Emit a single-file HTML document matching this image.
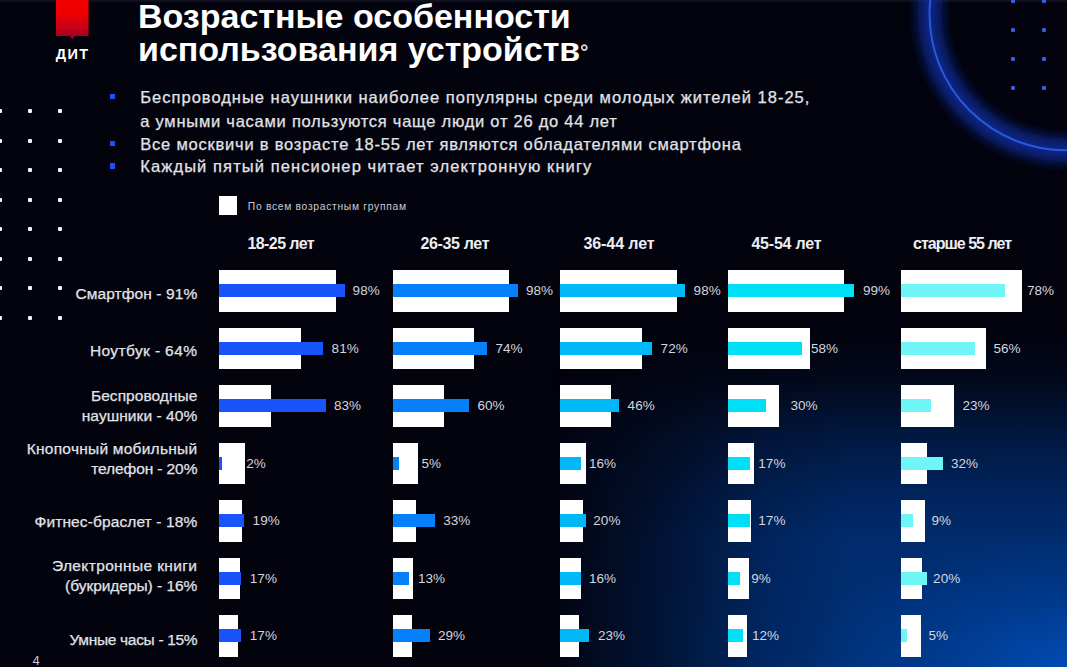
<!DOCTYPE html>
<html lang="ru"><head><meta charset="utf-8"><title>Возрастные особенности использования устройств</title>
<style>
*{margin:0;padding:0;box-sizing:border-box}
html,body{width:1067px;height:667px;overflow:hidden}
body{position:relative;background:#03030e;font-family:"Liberation Sans",sans-serif;color:#fff}
.a{position:absolute}
.bg{position:absolute;left:0;top:0;width:1067px;height:667px}
.w{position:absolute;background:#fff}
.b{position:absolute}
.t{position:absolute;white-space:nowrap;line-height:1}
.pct{font-size:13.5px;color:#d4d6de;letter-spacing:0.05px}
.lbl{font-size:15.5px;color:#e2e3e8;-webkit-text-stroke:0.25px #e2e3e8;letter-spacing:-0.25px;text-align:right}
.hd{font-size:16px;font-weight:700;color:#eceef2;letter-spacing:-0.5px}
.bul{font-size:16.5px;color:#e2e3e8;-webkit-text-stroke:0.25px #e2e3e8}
.dot{position:absolute;width:4px;height:4px;background:#f4f4f8;border-radius:1px}
.bdot{position:absolute;width:4px;height:4px;background:#3560e0;border-radius:1.2px}
</style></head><body>

<div class="bg" style="background:linear-gradient(to bottom, rgba(0,44,110,0) 330px, rgba(0,44,110,0.15) 380px, rgba(0,44,110,0.42) 420px, rgba(0,44,110,0.55) 440px, rgba(0,44,110,0.8) 490px, rgba(0,44,110,1) 540px, rgb(0,48,118) 667px);-webkit-mask-image:linear-gradient(to right, rgba(0,0,0,0) 548px, rgba(0,0,0,0.12) 578px, rgba(0,0,0,0.36) 650px, rgba(0,0,0,0.56) 700px, rgba(0,0,0,0.82) 765px, #000 850px);mask-image:linear-gradient(to right, rgba(0,0,0,0) 548px, rgba(0,0,0,0.12) 578px, rgba(0,0,0,0.36) 650px, rgba(0,0,0,0.56) 700px, rgba(0,0,0,0.82) 765px, #000 850px)"></div>
<div class="bg" style="background:radial-gradient(ellipse 260px 135px at 1067px 667px, rgba(0,86,205,0.7), rgba(0,86,205,0.28) 50%, rgba(0,86,205,0) 100%)"></div>
<div class="a" style="left:0;top:0;width:1067px;height:3px;background:linear-gradient(to bottom, rgba(22,22,40,0.9), rgba(22,22,40,0))"></div>
<svg class="a" style="left:0;top:0" width="1067" height="667" viewBox="0 0 1067 667"><defs><filter id="gl" x="-50%" y="-50%" width="200%" height="200%"><feGaussianBlur stdDeviation="6"/></filter><filter id="gl2" x="-50%" y="-50%" width="200%" height="200%"><feGaussianBlur stdDeviation="0.7"/></filter></defs><circle cx="1066.0" cy="13.8" r="136.5" fill="none" stroke="#0b2c95" stroke-width="24" opacity="0.85" filter="url(#gl)"/><circle cx="1066.0" cy="13.8" r="136.5" fill="none" stroke="#2b58dc" stroke-width="2" filter="url(#gl2)"/></svg>
<div class="bdot" style="left:1011.4px;top:-1.5px"></div>
<div class="bdot" style="left:1011.4px;top:27.5px"></div>
<div class="bdot" style="left:1011.4px;top:56.8px"></div>
<div class="bdot" style="left:1011.4px;top:86.1px"></div>
<div class="bdot" style="left:1041.5px;top:-1.5px"></div>
<div class="bdot" style="left:1041.5px;top:27.5px"></div>
<div class="bdot" style="left:1041.5px;top:56.8px"></div>
<div class="bdot" style="left:1041.5px;top:86.1px"></div>
<div class="dot" style="left:-1.7px;top:109.4px"></div>
<div class="dot" style="left:-1.7px;top:138.8px"></div>
<div class="dot" style="left:-1.7px;top:168.3px"></div>
<div class="dot" style="left:-1.7px;top:197.8px"></div>
<div class="dot" style="left:-1.7px;top:227.2px"></div>
<div class="dot" style="left:-1.7px;top:256.6px"></div>
<div class="dot" style="left:-1.7px;top:286.1px"></div>
<div class="dot" style="left:-1.7px;top:315.6px"></div>
<div class="dot" style="left:27.6px;top:109.4px"></div>
<div class="dot" style="left:27.6px;top:138.8px"></div>
<div class="dot" style="left:27.6px;top:168.3px"></div>
<div class="dot" style="left:27.6px;top:197.8px"></div>
<div class="dot" style="left:27.6px;top:227.2px"></div>
<div class="dot" style="left:27.6px;top:256.6px"></div>
<div class="dot" style="left:27.6px;top:286.1px"></div>
<div class="dot" style="left:27.6px;top:315.6px"></div>
<div class="dot" style="left:57.6px;top:109.4px"></div>
<div class="dot" style="left:57.6px;top:138.8px"></div>
<div class="dot" style="left:57.6px;top:168.3px"></div>
<div class="dot" style="left:57.6px;top:197.8px"></div>
<div class="dot" style="left:57.6px;top:227.2px"></div>
<div class="dot" style="left:57.6px;top:256.6px"></div>
<div class="dot" style="left:57.6px;top:286.1px"></div>
<div class="dot" style="left:57.6px;top:315.6px"></div>
<svg class="a" style="left:56px;top:0" width="33" height="40" viewBox="0 0 33 40">
<defs><linearGradient id="lg" x1="0" y1="0" x2="0" y2="1"><stop offset="0" stop-color="#f20000"/><stop offset="0.38" stop-color="#ee0000"/><stop offset="0.5" stop-color="#d8000e"/><stop offset="0.72" stop-color="#c8001a"/><stop offset="0.82" stop-color="#ac001c"/><stop offset="1" stop-color="#b0001e"/></linearGradient></defs>
<path d="M0 0H32.5V36H18.6L16.3 39.2L14 36H0Z" fill="url(#lg)"/></svg>
<div class="t" style="left:55.8px;top:46.5px;font-size:14.5px;font-weight:700;letter-spacing:1.4px;color:#fff">ДИТ</div>
<div class="t" style="left:138px;top:0px;font-size:34px;font-weight:700;line-height:32.6px;color:#fff">Возрастные особенности<br>использования устройств</div>
<svg class="a" style="left:580px;top:44px" width="8" height="8" viewBox="0 0 8 8"><circle cx="4.3" cy="3.6" r="2.5" fill="none" stroke="#d4d4dc" stroke-width="1.7"/></svg>
<div class="t bul" style="left:140.3px;top:88.73px;letter-spacing:0.997px">Беспроводные наушники наиболее популярны среди молодых жителей 18-25,</div>
<div class="a" style="left:109.5px;top:93.7px;width:5.5px;height:5.5px;background:#2050f0"></div>
<div class="t bul" style="left:140.3px;top:112.63px;letter-spacing:0.747px">а умными часами пользуются чаще люди от 26 до 44 лет</div>
<div class="t bul" style="left:140.3px;top:135.83px;letter-spacing:0.776px">Все москвичи в возрасте 18-55 лет являются обладателями смартфона</div>
<div class="a" style="left:109.5px;top:140.8px;width:5.5px;height:5.5px;background:#2050f0"></div>
<div class="t bul" style="left:140.3px;top:158.23px;letter-spacing:1.094px">Каждый пятый пенсионер читает электронную книгу</div>
<div class="a" style="left:109.5px;top:163.2px;width:5.5px;height:5.5px;background:#2050f0"></div>
<div class="w" style="left:218.5px;top:196px;width:18.8px;height:18.6px"></div>
<div class="t" style="left:247.8px;top:201.58px;font-size:10.3px;color:#c9cad2;letter-spacing:0.7px">По всем возрастным группам</div>
<div class="t hd" style="left:247.5px;top:235.56px;letter-spacing:-0.593px">18-25 лет</div>
<div class="t hd" style="left:420.5px;top:235.56px;letter-spacing:-0.355px">26-35 лет</div>
<div class="t hd" style="left:583.5px;top:235.56px;letter-spacing:-0.093px">36-44 лет</div>
<div class="t hd" style="left:751.4px;top:235.56px;letter-spacing:-0.205px">45-54 лет</div>
<div class="t hd" style="left:913px;top:235.56px;letter-spacing:-0.984px">старше 55 лет</div>
<div class="w" style="left:219.3px;top:270px;width:116.7px;height:41.6px"></div>
<div class="b" style="left:219.3px;top:284.0px;width:125.6px;height:13.4px;background:#1854fa"></div>
<div class="t pct" style="left:352.6px;top:284.17px">98%</div>
<div class="w" style="left:219.3px;top:327.5px;width:82.0px;height:41.6px"></div>
<div class="b" style="left:219.3px;top:341.5px;width:103.8px;height:13.4px;background:#1854fa"></div>
<div class="t pct" style="left:331.6px;top:341.67px">81%</div>
<div class="w" style="left:219.3px;top:385px;width:51.3px;height:41.6px"></div>
<div class="b" style="left:219.3px;top:399.0px;width:106.4px;height:13.4px;background:#1854fa"></div>
<div class="t pct" style="left:333.9px;top:399.17px">83%</div>
<div class="w" style="left:219.3px;top:442.5px;width:25.6px;height:41.6px"></div>
<div class="b" style="left:219.3px;top:456.5px;width:2.6px;height:13.4px;background:#1854fa"></div>
<div class="t pct" style="left:246.2px;top:456.67px">2%</div>
<div class="w" style="left:219.3px;top:500px;width:23.1px;height:41.6px"></div>
<div class="b" style="left:219.3px;top:514.0px;width:24.4px;height:13.4px;background:#1854fa"></div>
<div class="t pct" style="left:252.6px;top:514.17px">19%</div>
<div class="w" style="left:219.3px;top:557.5px;width:20.5px;height:41.6px"></div>
<div class="b" style="left:219.3px;top:571.5px;width:21.8px;height:13.4px;background:#1854fa"></div>
<div class="t pct" style="left:249.8px;top:571.67px">17%</div>
<div class="w" style="left:219.3px;top:615px;width:19.2px;height:41.6px"></div>
<div class="b" style="left:219.3px;top:629.0px;width:21.8px;height:13.4px;background:#1854fa"></div>
<div class="t pct" style="left:249.8px;top:629.17px">17%</div>
<div class="w" style="left:392.5px;top:270px;width:116.5px;height:41.6px"></div>
<div class="b" style="left:392.5px;top:284.0px;width:125.4px;height:13.4px;background:#0580fa"></div>
<div class="t pct" style="left:526.0px;top:284.17px">98%</div>
<div class="w" style="left:392.5px;top:327.5px;width:81.9px;height:41.6px"></div>
<div class="b" style="left:392.5px;top:341.5px;width:94.7px;height:13.4px;background:#0580fa"></div>
<div class="t pct" style="left:495.5px;top:341.67px">74%</div>
<div class="w" style="left:392.5px;top:385px;width:51.2px;height:41.6px"></div>
<div class="b" style="left:392.5px;top:399.0px;width:76.8px;height:13.4px;background:#0580fa"></div>
<div class="t pct" style="left:477.5px;top:399.17px">60%</div>
<div class="w" style="left:392.5px;top:442.5px;width:25.6px;height:41.6px"></div>
<div class="b" style="left:392.5px;top:456.5px;width:6.4px;height:13.4px;background:#0580fa"></div>
<div class="t pct" style="left:421.5px;top:456.67px">5%</div>
<div class="w" style="left:392.5px;top:500px;width:23.0px;height:41.6px"></div>
<div class="b" style="left:392.5px;top:514.0px;width:42.2px;height:13.4px;background:#0580fa"></div>
<div class="t pct" style="left:443.2px;top:514.17px">33%</div>
<div class="w" style="left:392.5px;top:557.5px;width:20.5px;height:41.6px"></div>
<div class="b" style="left:392.5px;top:571.5px;width:16.6px;height:13.4px;background:#0580fa"></div>
<div class="t pct" style="left:418.0px;top:571.67px">13%</div>
<div class="w" style="left:392.5px;top:615px;width:19.2px;height:41.6px"></div>
<div class="b" style="left:392.5px;top:629.0px;width:37.1px;height:13.4px;background:#0580fa"></div>
<div class="t pct" style="left:437.9px;top:629.17px">29%</div>
<div class="w" style="left:560.0px;top:270px;width:116.5px;height:41.6px"></div>
<div class="b" style="left:560.0px;top:284.0px;width:125.4px;height:13.4px;background:#00b8f8"></div>
<div class="t pct" style="left:693.6px;top:284.17px">98%</div>
<div class="w" style="left:560.0px;top:327.5px;width:81.9px;height:41.6px"></div>
<div class="b" style="left:560.0px;top:341.5px;width:92.2px;height:13.4px;background:#00b8f8"></div>
<div class="t pct" style="left:660.6px;top:341.67px">72%</div>
<div class="w" style="left:560.0px;top:385px;width:51.2px;height:41.6px"></div>
<div class="b" style="left:560.0px;top:399.0px;width:58.9px;height:13.4px;background:#00b8f8"></div>
<div class="t pct" style="left:627.6px;top:399.17px">46%</div>
<div class="w" style="left:560.0px;top:442.5px;width:25.6px;height:41.6px"></div>
<div class="b" style="left:560.0px;top:456.5px;width:20.5px;height:13.4px;background:#00b8f8"></div>
<div class="t pct" style="left:589.0px;top:456.67px">16%</div>
<div class="w" style="left:560.0px;top:500px;width:23.0px;height:41.6px"></div>
<div class="b" style="left:560.0px;top:514.0px;width:25.6px;height:13.4px;background:#00b8f8"></div>
<div class="t pct" style="left:593.3px;top:514.17px">20%</div>
<div class="w" style="left:560.0px;top:557.5px;width:20.5px;height:41.6px"></div>
<div class="b" style="left:560.0px;top:571.5px;width:20.5px;height:13.4px;background:#00b8f8"></div>
<div class="t pct" style="left:589.0px;top:571.67px">16%</div>
<div class="w" style="left:560.0px;top:615px;width:19.2px;height:41.6px"></div>
<div class="b" style="left:560.0px;top:629.0px;width:29.4px;height:13.4px;background:#00b8f8"></div>
<div class="t pct" style="left:597.9px;top:629.17px">23%</div>
<div class="w" style="left:728.2px;top:270px;width:116.0px;height:41.6px"></div>
<div class="b" style="left:728.2px;top:284.0px;width:126.2px;height:13.4px;background:#00dff5"></div>
<div class="t pct" style="left:863.0px;top:284.17px">99%</div>
<div class="w" style="left:728.2px;top:327.5px;width:81.6px;height:41.6px"></div>
<div class="b" style="left:728.2px;top:341.5px;width:73.9px;height:13.4px;background:#00dff5"></div>
<div class="t pct" style="left:811.0px;top:341.67px">58%</div>
<div class="w" style="left:728.2px;top:385px;width:51.0px;height:41.6px"></div>
<div class="b" style="left:728.2px;top:399.0px;width:38.2px;height:13.4px;background:#00dff5"></div>
<div class="t pct" style="left:790.4px;top:399.17px">30%</div>
<div class="w" style="left:728.2px;top:442.5px;width:25.5px;height:41.6px"></div>
<div class="b" style="left:728.2px;top:456.5px;width:21.7px;height:13.4px;background:#00dff5"></div>
<div class="t pct" style="left:758.3px;top:456.67px">17%</div>
<div class="w" style="left:728.2px;top:500px;width:22.9px;height:41.6px"></div>
<div class="b" style="left:728.2px;top:514.0px;width:21.7px;height:13.4px;background:#00dff5"></div>
<div class="t pct" style="left:758.3px;top:514.17px">17%</div>
<div class="w" style="left:728.2px;top:557.5px;width:20.4px;height:41.6px"></div>
<div class="b" style="left:728.2px;top:571.5px;width:11.5px;height:13.4px;background:#00dff5"></div>
<div class="t pct" style="left:751.2px;top:571.67px">9%</div>
<div class="w" style="left:728.2px;top:615px;width:19.1px;height:41.6px"></div>
<div class="b" style="left:728.2px;top:629.0px;width:15.3px;height:13.4px;background:#00dff5"></div>
<div class="t pct" style="left:752.0px;top:629.17px">12%</div>
<div class="w" style="left:900.5px;top:270px;width:121.3px;height:41.6px"></div>
<div class="b" style="left:900.5px;top:284.0px;width:104.0px;height:13.4px;background:#70f5f7"></div>
<div class="t pct" style="left:1027.0px;top:284.17px">78%</div>
<div class="w" style="left:900.5px;top:327.5px;width:85.3px;height:41.6px"></div>
<div class="b" style="left:900.5px;top:341.5px;width:74.6px;height:13.4px;background:#70f5f7"></div>
<div class="t pct" style="left:993.4px;top:341.67px">56%</div>
<div class="w" style="left:900.5px;top:385px;width:53.3px;height:41.6px"></div>
<div class="b" style="left:900.5px;top:399.0px;width:30.7px;height:13.4px;background:#70f5f7"></div>
<div class="t pct" style="left:962.5px;top:399.17px">23%</div>
<div class="w" style="left:900.5px;top:442.5px;width:26.7px;height:41.6px"></div>
<div class="b" style="left:900.5px;top:456.5px;width:42.7px;height:13.4px;background:#70f5f7"></div>
<div class="t pct" style="left:950.9px;top:456.67px">32%</div>
<div class="w" style="left:900.5px;top:500px;width:24.0px;height:41.6px"></div>
<div class="b" style="left:900.5px;top:514.0px;width:12.0px;height:13.4px;background:#70f5f7"></div>
<div class="t pct" style="left:931.4px;top:514.17px">9%</div>
<div class="w" style="left:900.5px;top:557.5px;width:21.3px;height:41.6px"></div>
<div class="b" style="left:900.5px;top:571.5px;width:26.7px;height:13.4px;background:#70f5f7"></div>
<div class="t pct" style="left:933.1px;top:571.67px">20%</div>
<div class="w" style="left:900.5px;top:615px;width:20.0px;height:41.6px"></div>
<div class="b" style="left:900.5px;top:629.0px;width:6.7px;height:13.4px;background:#70f5f7"></div>
<div class="t pct" style="left:928.5px;top:629.17px">5%</div>
<div class="t lbl" style="right:869.7px;top:285.58px;letter-spacing:0.093px">Смартфон - 91%</div>
<div class="t lbl" style="right:869.7px;top:343.48px;letter-spacing:0.387px">Ноутбук - 64%</div>
<div class="t lbl" style="right:869.7px;top:388.38px;letter-spacing:0.037px">Беспроводные</div>
<div class="t lbl" style="right:869.7px;top:407.88px;letter-spacing:0.065px">наушники - 40%</div>
<div class="t lbl" style="right:869.7px;top:440.98px;letter-spacing:0.243px">Кнопочный мобильный</div>
<div class="t lbl" style="right:869.7px;top:461.28px;letter-spacing:-0.103px">телефон - 20%</div>
<div class="t lbl" style="right:869.7px;top:513.88px;letter-spacing:0.112px">Фитнес-браслет - 18%</div>
<div class="t lbl" style="right:869.7px;top:558.08px;letter-spacing:0.369px">Электронные книги</div>
<div class="t lbl" style="right:869.7px;top:578.18px;letter-spacing:-0.038px">(букридеры) - 16%</div>
<div class="t lbl" style="right:869.7px;top:632.48px;letter-spacing:-0.315px">Умные часы - 15%</div>
<div class="t" style="left:32.5px;top:653.90px;font-size:13px;color:#c8c8d0">4</div>
</body></html>
